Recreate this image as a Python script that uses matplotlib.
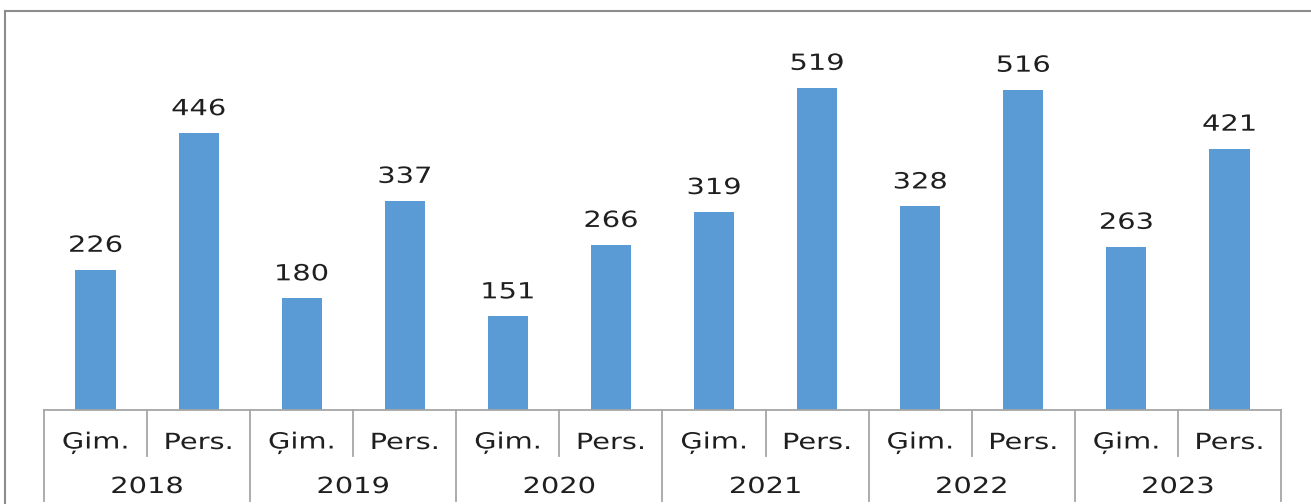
import numpy as np
from matplotlib import pyplot as plt
from matplotlib import patheffects
from matplotlib.transforms import Affine2D, blended_transform_factory
from matplotlib.lines import Line2D

years = ['2018', '2019', '2020', '2021', '2022', '2023']
kinds = ['Ģim.', 'Pers.']
values = [226, 446, 180, 337, 151, 266, 319, 519, 328, 516, 263, 421]

W, H = 1311, 504
bar_color = '#5B9BD5'
text_color = '#1F1F1F'
line_color = '#A6A6A6'


# the reference font is drawn wider than DejaVu, so widen glyphs about their centre
class Widen(patheffects.AbstractPathEffect):
    def __init__(self, sx):
        super().__init__()
        self.sx = sx

    def draw_path(self, renderer, gc, tpath, affine, rgbFace=None):
        bb = tpath.get_extents(affine)
        cx = (bb.x0 + bb.x1) / 2
        t = affine + Affine2D().translate(-cx, 0).scale(self.sx, 1).translate(cx, 0)
        renderer.draw_path(gc, tpath, t, rgbFace)


wide = [Widen(1.3)]
fs = 16

fig = plt.figure(figsize=(W / 100, H / 100), dpi=100)
left, right, base, top = 44, 1281, 410, 37.4
ax = fig.add_axes([left / W, 1 - base / H, (right - left) / W, (base - top) / H])

x = np.arange(len(values))
ax.bar(x, values, width=0.39, color=bar_color, zorder=2)
ax.set_xlim(-0.5, len(values) - 0.5)
ax.set_ylim(0, 600)

for xi, v in zip(x, values):
    ax.annotate(str(v), (xi, v), xytext=(0, 10), textcoords='offset points',
                ha='center', va='bottom', fontsize=fs, color=text_color,
                path_effects=wide)

for s in ['left', 'right', 'top']:
    ax.spines[s].set_visible(False)
ax.spines['bottom'].set_color(line_color)
ax.spines['bottom'].set_linewidth(1.3)
ax.set_xticks([])
ax.set_yticks([])

# two-level category axis
ah = base - top
tr = blended_transform_factory(ax.transData, ax.transAxes)
inner_lo = -46 / ah
outer_lo = -91 / ah
for i in range(len(values) + 1):
    lo = outer_lo if i % 2 == 0 else inner_lo
    ax.plot([i - 0.5, i - 0.5], [0, lo], transform=tr, color=line_color,
            lw=1.3, clip_on=False)
for i in range(len(values)):
    ax.text(i, -33 / ah, kinds[i % 2], transform=tr, ha='center', va='center',
            fontsize=fs, color=text_color, path_effects=wide)
for j, yr in enumerate(years):
    ax.text(2 * j + 0.5, -77 / ah, yr, transform=tr, ha='center', va='center',
            fontsize=fs, color=text_color, path_effects=wide)

# outer frame, only top and left edges are visible
fig.add_artist(Line2D([5 / W, 1], [1 - 11 / H, 1 - 11 / H], color='#8C8C8C', lw=1.5))
fig.add_artist(Line2D([5 / W, 5 / W], [0, 1 - 11 / H], color='#8C8C8C', lw=1.5))

plt.savefig('out.png', dpi=100)
